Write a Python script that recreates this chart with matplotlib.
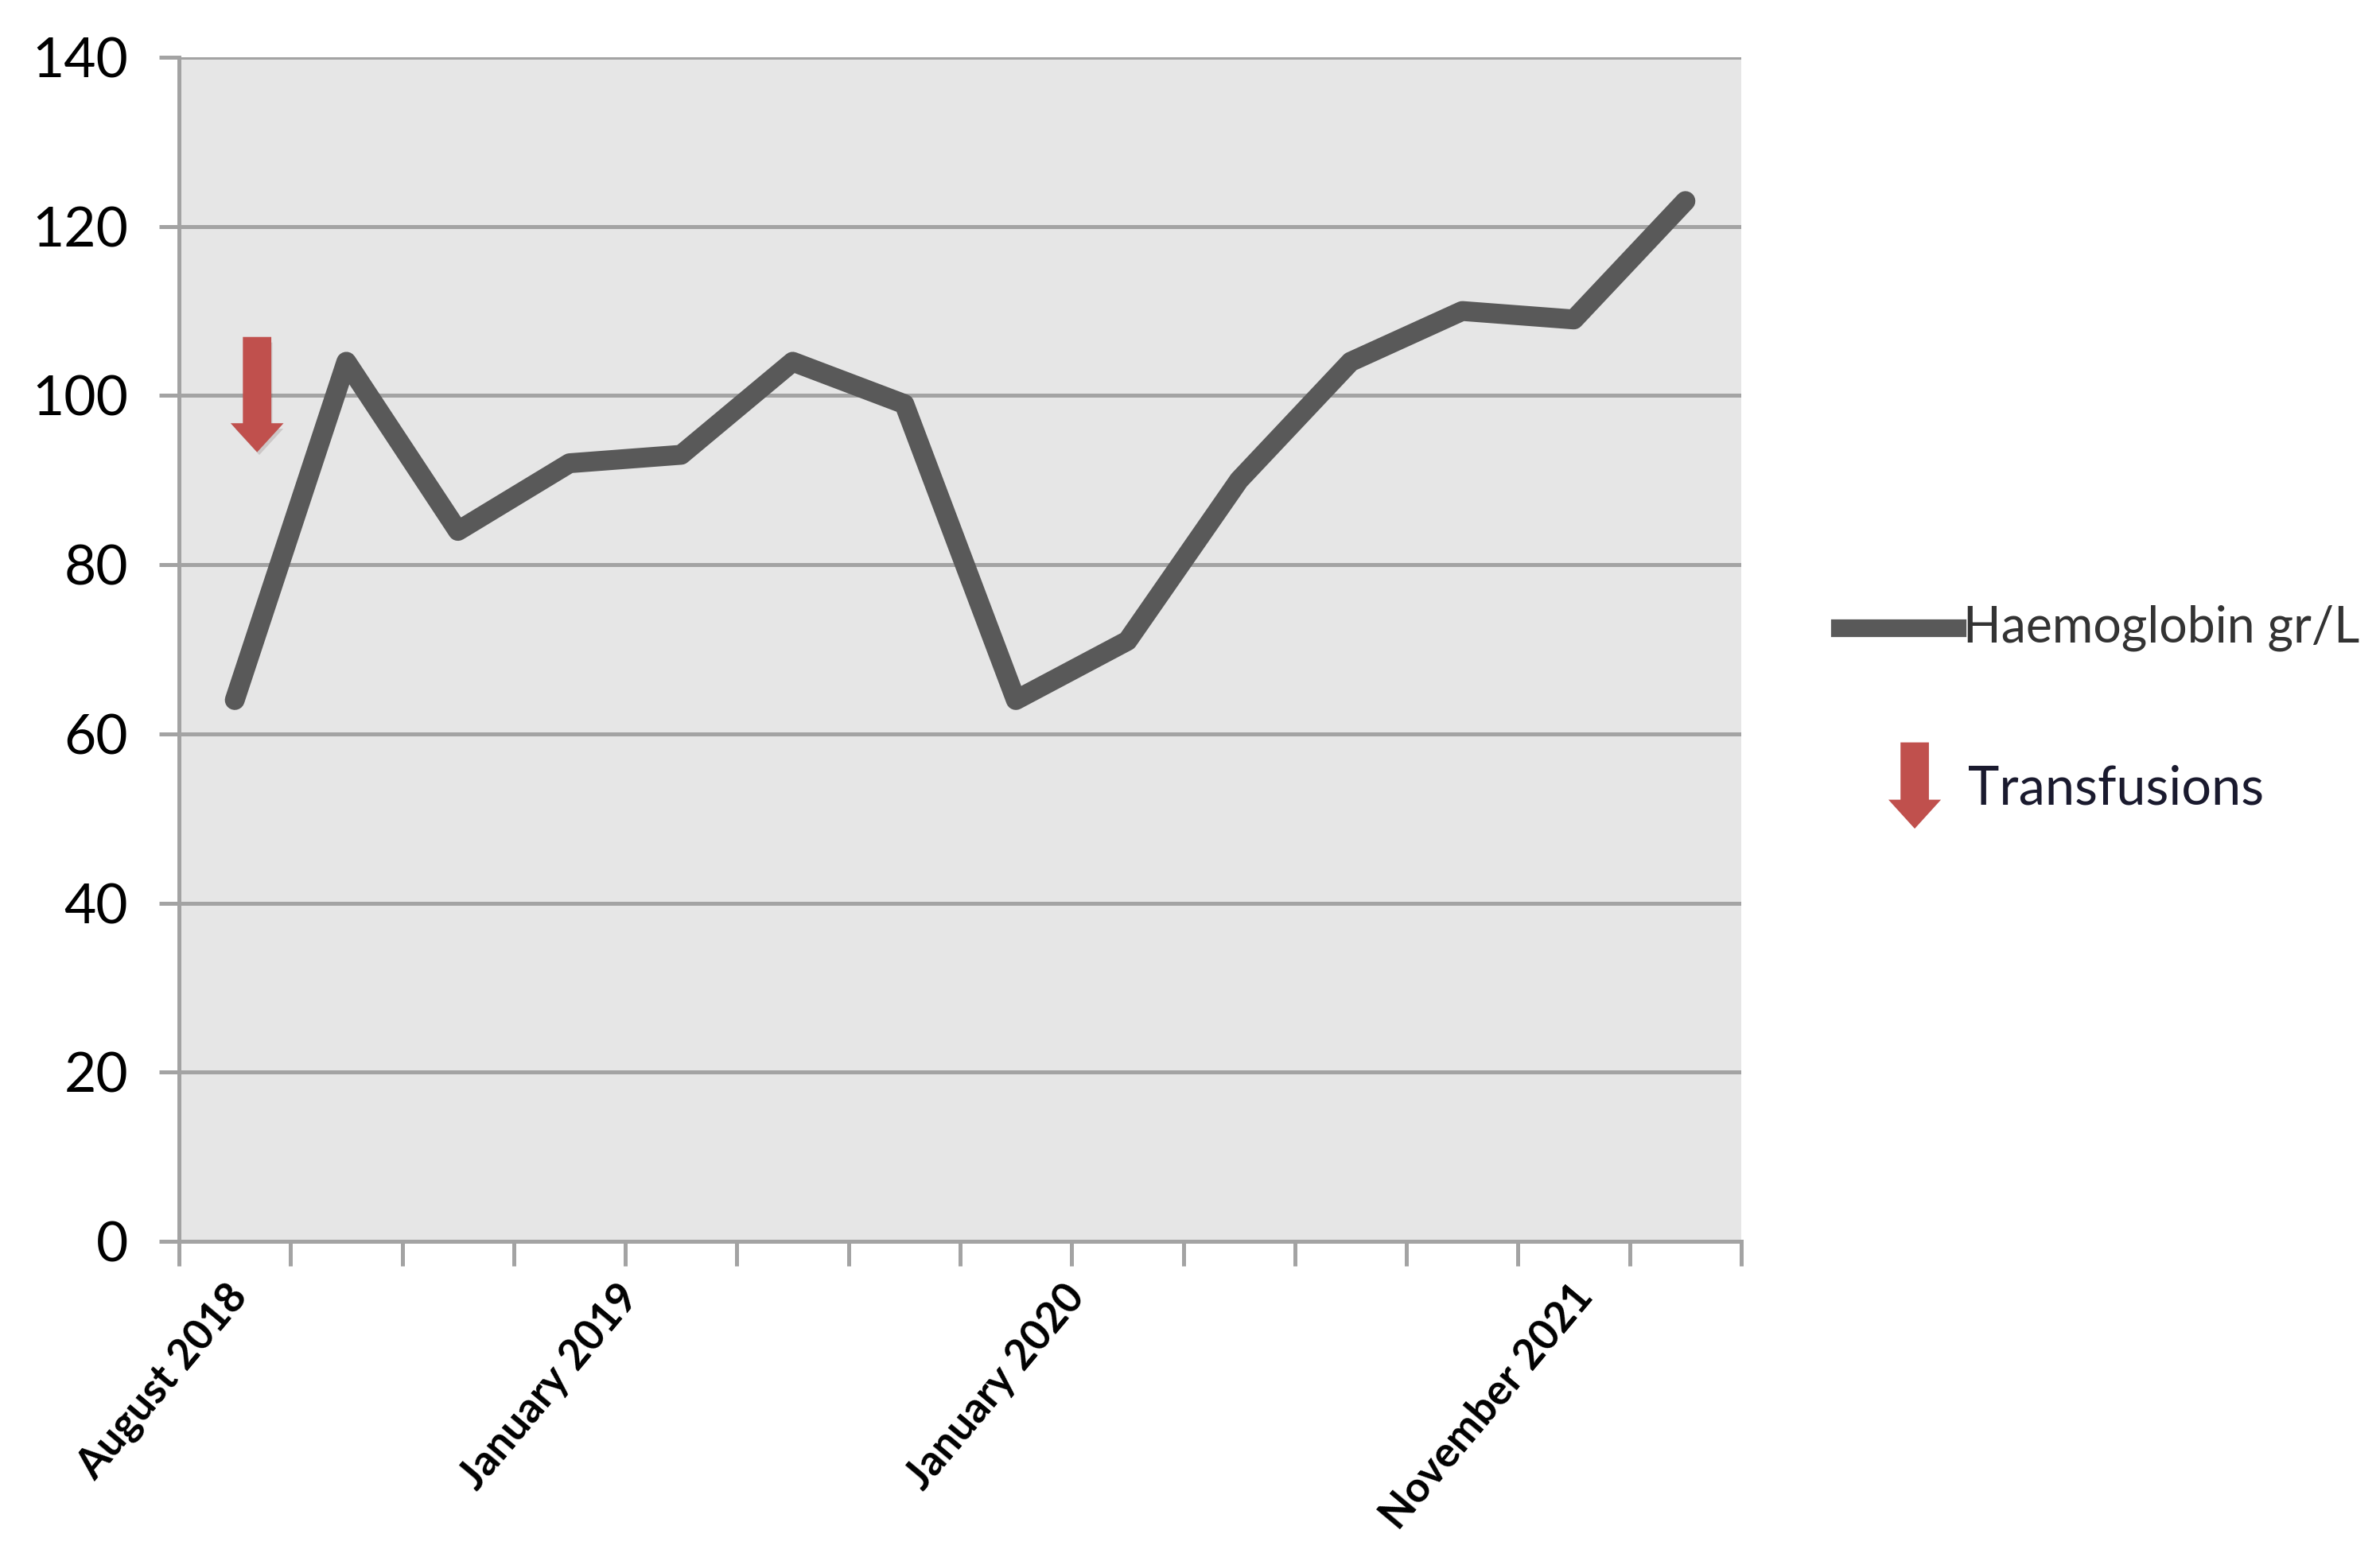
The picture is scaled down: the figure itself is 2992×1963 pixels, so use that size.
import matplotlib
matplotlib.use("Agg")
import matplotlib.pyplot as plt
import numpy as np
from matplotlib.lines import Line2D
from matplotlib.patches import FancyArrow
import matplotlib.patheffects as pe

plt.rcParams['font.family'] = ['Lato', 'DejaVu Sans']

# haemoglobin readings (gr/L), one per visit
haemoglobin = [64, 104, 84, 92, 93, 104, 99, 64, 71, 90, 104, 110, 109, 123]

# date labels and where they sit along the category axis
date_labels = ['August 2018', 'January 2019', 'January 2020', 'November 2021']
date_label_pos = [0.05, 3.55, 7.55, 12.1]

# transfusion marker: category position, arrow top and tip (gr/L)
transfusion_x = [0.2]
transfusion_top = [106.8]
transfusion_tip = [93.5]

line_col = '#595959'
grid_col = '#A3A3A3'
arrow_col = '#C0504D'

fig = plt.figure(figsize=(14.96, 9.815), dpi=200)
ax = fig.add_axes([0.0752, 0.2048, 0.6564, 0.7585])
ax.set_facecolor('#E6E6E6')

x = np.arange(len(haemoglobin))
ax.plot(x, haemoglobin, color=line_col, lw=9, solid_capstyle='round',
        solid_joinstyle='round', zorder=4)

for tx, top, tip in zip(transfusion_x, transfusion_top, transfusion_tip):
    ax.add_patch(FancyArrow(tx, top, 0, tip - top, width=0.235, head_width=0.43,
                            head_length=3.1, length_includes_head=True,
                            color=arrow_col, zorder=5,
                            path_effects=[pe.SimplePatchShadow(offset=(1, -2), alpha=0.15),
                                          pe.Normal()]))

ax.set_xlim(-0.5, len(haemoglobin) - 0.5)
ax.set_ylim(0, 140)
ax.set_yticks(np.arange(0, 141, 20))
ax.yaxis.grid(True, color=grid_col, lw=1.8)
ax.set_axisbelow(True)

# tick marks at category boundaries, date labels separately
ax.set_xticks(np.arange(-0.5, len(haemoglobin), 1.0))
ax.set_xticklabels([])
ax.set_xticks(date_label_pos, minor=True)
ax.set_xticklabels(date_labels, minor=True, rotation=50, ha='right', va='center',
                   rotation_mode='anchor', fontsize=19, fontweight='bold')
ax.tick_params(axis='x', which='minor', length=0, pad=22)
ax.tick_params(axis='x', which='major', length=11, width=1.8, color=grid_col, direction='out')
ax.tick_params(axis='y', length=9, width=1.8, color=grid_col, direction='out',
               labelsize=25, pad=14)

for s in ['top', 'right']:
    ax.spines[s].set_visible(False)
for s in ['left', 'bottom']:
    ax.spines[s].set_color(grid_col)
    ax.spines[s].set_linewidth(1.8)

# legend drawn by hand
fig.add_artist(Line2D([0.773, 0.8225], [0.5976, 0.5976], color=line_col, lw=8,
                      transform=fig.transFigure))
fig.text(0.825, 0.5976, 'Haemoglobin gr/L', fontsize=22.5, color='#333333', va='center')
fig.add_artist(FancyArrow(0.8045, 0.5237, 0, -0.0535, width=0.011, head_width=0.02,
                          head_length=0.0168, length_includes_head=True, color=arrow_col,
                          transform=fig.transFigure))
fig.text(0.827, 0.4946, 'Transfusions', fontsize=24, color='#1a1a2e', va='center')

fig.savefig('out.png', dpi=200, facecolor='white')
